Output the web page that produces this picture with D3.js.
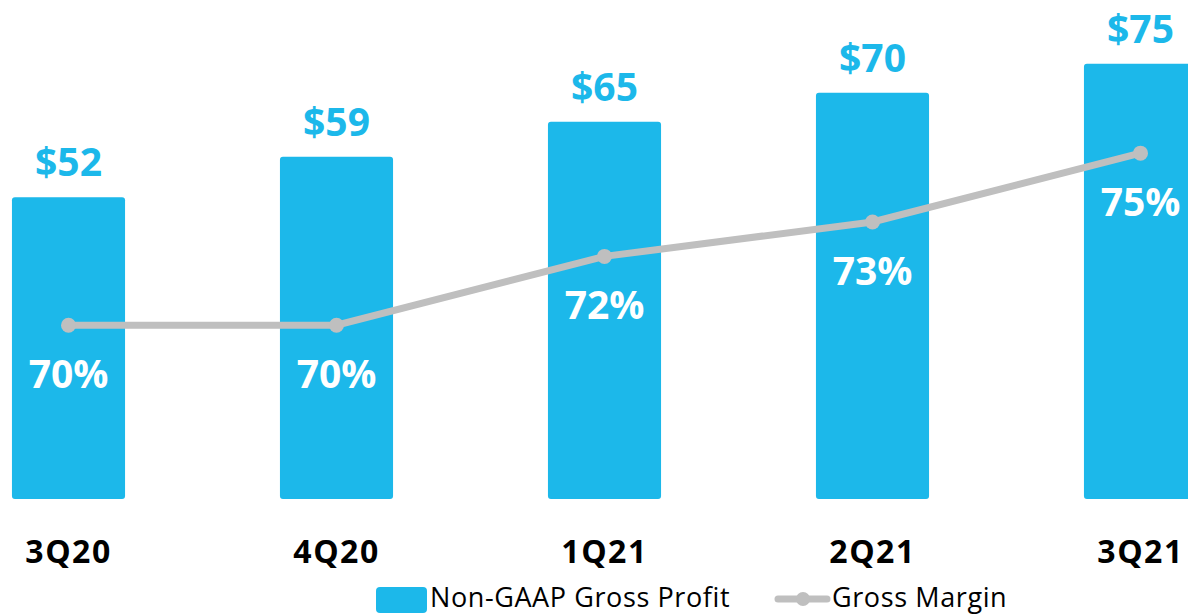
<!DOCTYPE html>
<html>
<head>
<meta charset="utf-8">
<script src="https://cdn.jsdelivr.net/npm/d3@7/dist/d3.min.js"></script>
<style>
  body { margin: 0; background: #fff; }
  svg { display: block; font-family: "Open Sans", sans-serif; }
</style>
</head>
<body>
<div id="chart"></div>
<script>
var quarters = ["3Q20", "4Q20", "1Q21", "2Q21", "3Q21"];
var grossProfit = [52, 59, 65, 70, 75];
var grossMargin = [70, 70, 72, 73, 75];
var seriesNames = ["Non-GAAP Gross Profit", "Gross Margin"];

var width = 1188,
    height = 615,
    baseY = 499;

var blue = "#1CB8EA",
    grey = "#BFBFBF";

var x = d3.scaleBand()
    .domain(quarters)
    .range([-65.5, 1274.5])
    .paddingInner(0.578)
    .paddingOuter(0.289);

var y = d3.scaleLinear()
    .domain([0, 86])
    .range([baseY, 0]);

// margin line uses its own axis
var y2 = d3.scaleLinear()
    .domain([64.95, 79.45])
    .range([baseY, 0]);

var data = quarters.map(function(q, i) {
  return {q: q, profit: grossProfit[i], margin: grossMargin[i]};
});

var svg = d3.select("#chart").append("svg")
    .attr("width", width)
    .attr("height", height);

svg.selectAll(".bar")
    .data(data)
  .enter().append("rect")
    .attr("class", "bar")
    .attr("x", function(d) { return x(d.q); })
    .attr("y", function(d) { return y(d.profit); })
    .attr("width", x.bandwidth())
    .attr("height", function(d) { return baseY - y(d.profit); })
    .attr("rx", 3)
    .attr("fill", blue);

svg.selectAll(".val")
    .data(data)
  .enter().append("text")
    .attr("class", "val")
    .attr("x", function(d) { return x(d.q) + x.bandwidth() / 2; })
    .attr("y", function(d) { return y(d.profit) - 21; })
    .attr("text-anchor", "middle")
    .attr("font-size", 39)
    .attr("font-weight", "bold")
    .attr("fill", blue)
    .text(function(d) { return "$" + d.profit; });

var line = d3.line()
    .x(function(d) { return x(d.q) + x.bandwidth() / 2; })
    .y(function(d) { return y2(d.margin); });

svg.append("path")
    .datum(data)
    .attr("d", line)
    .attr("fill", "none")
    .attr("stroke", grey)
    .attr("stroke-width", 7);

svg.selectAll(".dot")
    .data(data)
  .enter().append("circle")
    .attr("class", "dot")
    .attr("cx", function(d) { return x(d.q) + x.bandwidth() / 2; })
    .attr("cy", function(d) { return y2(d.margin); })
    .attr("r", 7.5)
    .attr("fill", grey);

svg.selectAll(".pct")
    .data(data)
  .enter().append("text")
    .attr("class", "pct")
    .attr("x", function(d) { return x(d.q) + x.bandwidth() / 2; })
    .attr("y", function(d) { return y2(d.margin) + 63; })
    .attr("text-anchor", "middle")
    .attr("font-size", 39)
    .attr("font-weight", "bold")
    .attr("fill", "#fff")
    .text(function(d) { return d.margin + "%"; });

var xAxis = d3.axisBottom(x)
    .tickSize(0)
    .tickPadding(0);

var gx = svg.append("g")
    .attr("class", "x axis")
    .attr("transform", "translate(0," + 563 + ")")
    .call(xAxis);

gx.select(".domain").remove();
gx.selectAll("text")
    .attr("dy", 0)
    .attr("font-family", "Open Sans, sans-serif")
    .attr("font-size", 32)
    .attr("font-weight", "bold")
    .attr("letter-spacing", 1.5)
    .attr("fill", "#000");

// legend
var legend = svg.append("g")
    .attr("font-size", 27)
    .attr("letter-spacing", 0.6)
    .attr("fill", "#000");

legend.append("rect")
    .attr("x", 376)
    .attr("y", 587)
    .attr("width", 51)
    .attr("height", 26)
    .attr("rx", 4)
    .attr("fill", blue);

legend.append("text")
    .attr("x", 430)
    .attr("y", 607)
    .text(seriesNames[0]);

legend.append("line")
    .attr("x1", 778)
    .attr("x2", 827)
    .attr("y1", 599)
    .attr("y2", 599)
    .attr("stroke", grey)
    .attr("stroke-width", 7)
    .attr("stroke-linecap", "round");

legend.append("circle")
    .attr("cx", 803)
    .attr("cy", 599)
    .attr("r", 7)
    .attr("fill", grey);

legend.append("text")
    .attr("x", 832)
    .attr("y", 607)
    .text(seriesNames[1]);
</script>
</body>
</html>
